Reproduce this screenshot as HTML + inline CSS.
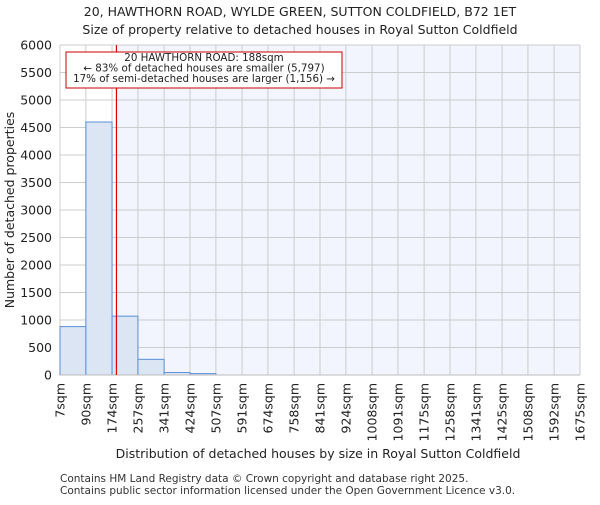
<!DOCTYPE html>
<html><head><meta charset="utf-8"><style>
body{margin:0;background:#fff;font-family:"Liberation Sans","DejaVu Sans",sans-serif}
svg text{font-family:"DejaVu Sans","Liberation Sans",sans-serif}
</style></head><body>
<svg id="c" width="600" height="500" xmlns="http://www.w3.org/2000/svg">
<text x="300" y="16" text-anchor="middle" font-size="12.5" fill="#222">20, HAWTHORN ROAD, WYLDE GREEN, SUTTON COLDFIELD, B72 1ET</text>
<text x="300" y="34" text-anchor="middle" font-size="12.5" fill="#222">Size of property relative to detached houses in Royal Sutton Coldfield</text>
<g id="plot"></g>
<text transform="translate(14,210) rotate(-90)" text-anchor="middle" font-size="12.5" fill="#222">Number of detached properties</text>
<text x="318" y="458" text-anchor="middle" font-size="12.5" fill="#222">Distribution of detached houses by size in Royal Sutton Coldfield</text>
<text x="60" y="482" font-size="10.5" fill="#333">Contains HM Land Registry data © Crown copyright and database right 2025.</text>
<text x="60" y="494" font-size="10.5" fill="#333">Contains public sector information licensed under the Open Government Licence v3.0.</text>
</svg>
<script>
const binLabels=["7sqm","90sqm","174sqm","257sqm","341sqm","424sqm","507sqm","591sqm","674sqm","758sqm","841sqm","924sqm","1008sqm","1091sqm","1175sqm","1258sqm","1341sqm","1425sqm","1508sqm","1592sqm","1675sqm"];
const binEdges=[7,90,174,257,341,424,507,591,674,758,841,924,1008,1091,1175,1258,1341,1425,1508,1592,1675];
const counts=[880,4600,1070,285,45,25,0,0,0,0,0,0,0,0,0,0,0,0,0,0];
const yTicks=[0,500,1000,1500,2000,2500,3000,3500,4000,4500,5000,5500,6000];
const propertySize=188;
const L=60,R=580,T=45,B=375,yMax=6000;
const NS="http://www.w3.org/2000/svg";
const g=document.getElementById('plot');
const x=v=>L+(v-binEdges[0])/(binEdges[binEdges.length-1]-binEdges[0])*(R-L);
const y=v=>B-v/yMax*(B-T);
function mk(t,a){const e=document.createElementNS(NS,t);for(const k in a)e.setAttribute(k,a[k]);g.appendChild(e);return e;}
const px=x(propertySize);
let bg=mk('rect',{x:px,y:T,width:R-px,height:B-T,fill:'#f2f5fd'});


yTicks.forEach(t=>{
 let l=mk('line',{x1:L,x2:R,y1:y(t),y2:y(t),stroke:'#cccccc','stroke-width':1});
 
 
 let tx=mk('text',{x:L-8,y:y(t)+4.5,'text-anchor':'end','font-size':'12.5',fill:'#222'});
 tx.textContent=t;
 
 
});
binEdges.forEach((e,i)=>{
 let l=mk('line',{x1:x(e),x2:x(e),y1:T,y2:B,stroke:'#cccccc','stroke-width':1});
 
 
 let tx=mk('text',{transform:`translate(${x(e)+4.5},${B+8}) rotate(-90)`,'text-anchor':'end','font-size':'12.5',fill:'#222'});
 tx.textContent=binLabels[i];
 
 
});
counts.forEach((c,i)=>{
 if(c<=0)return;
 let r=mk('rect',{x:x(binEdges[i]),y:y(c),width:x(binEdges[i+1])-x(binEdges[i]),height:B-y(c),fill:'#dbe5f4',stroke:'#5b8fd6','stroke-width':1});
 
 
});
let ax=mk('line',{x1:L,x2:R,y1:B,y2:B,stroke:'#bbbbbb','stroke-width':1});


let ml=mk('line',{x1:px,x2:px,y1:T,y2:B,stroke:'#dd0000','stroke-width':1.2});


let box=mk('rect',{x:66,y:52,width:276,height:36,fill:'#fff',stroke:'#cc0000','stroke-width':1});


["20 HAWTHORN ROAD: 188sqm","← 83% of detached houses are smaller (5,797)","17% of semi-detached houses are larger (1,156) →"].forEach((s,i)=>{
 let t=mk('text',{x:204,y:61+i*10.5,'text-anchor':'middle','font-size':'10.3',fill:'#222'});
 t.textContent=s;
 
 
});
</script>
</body></html>
